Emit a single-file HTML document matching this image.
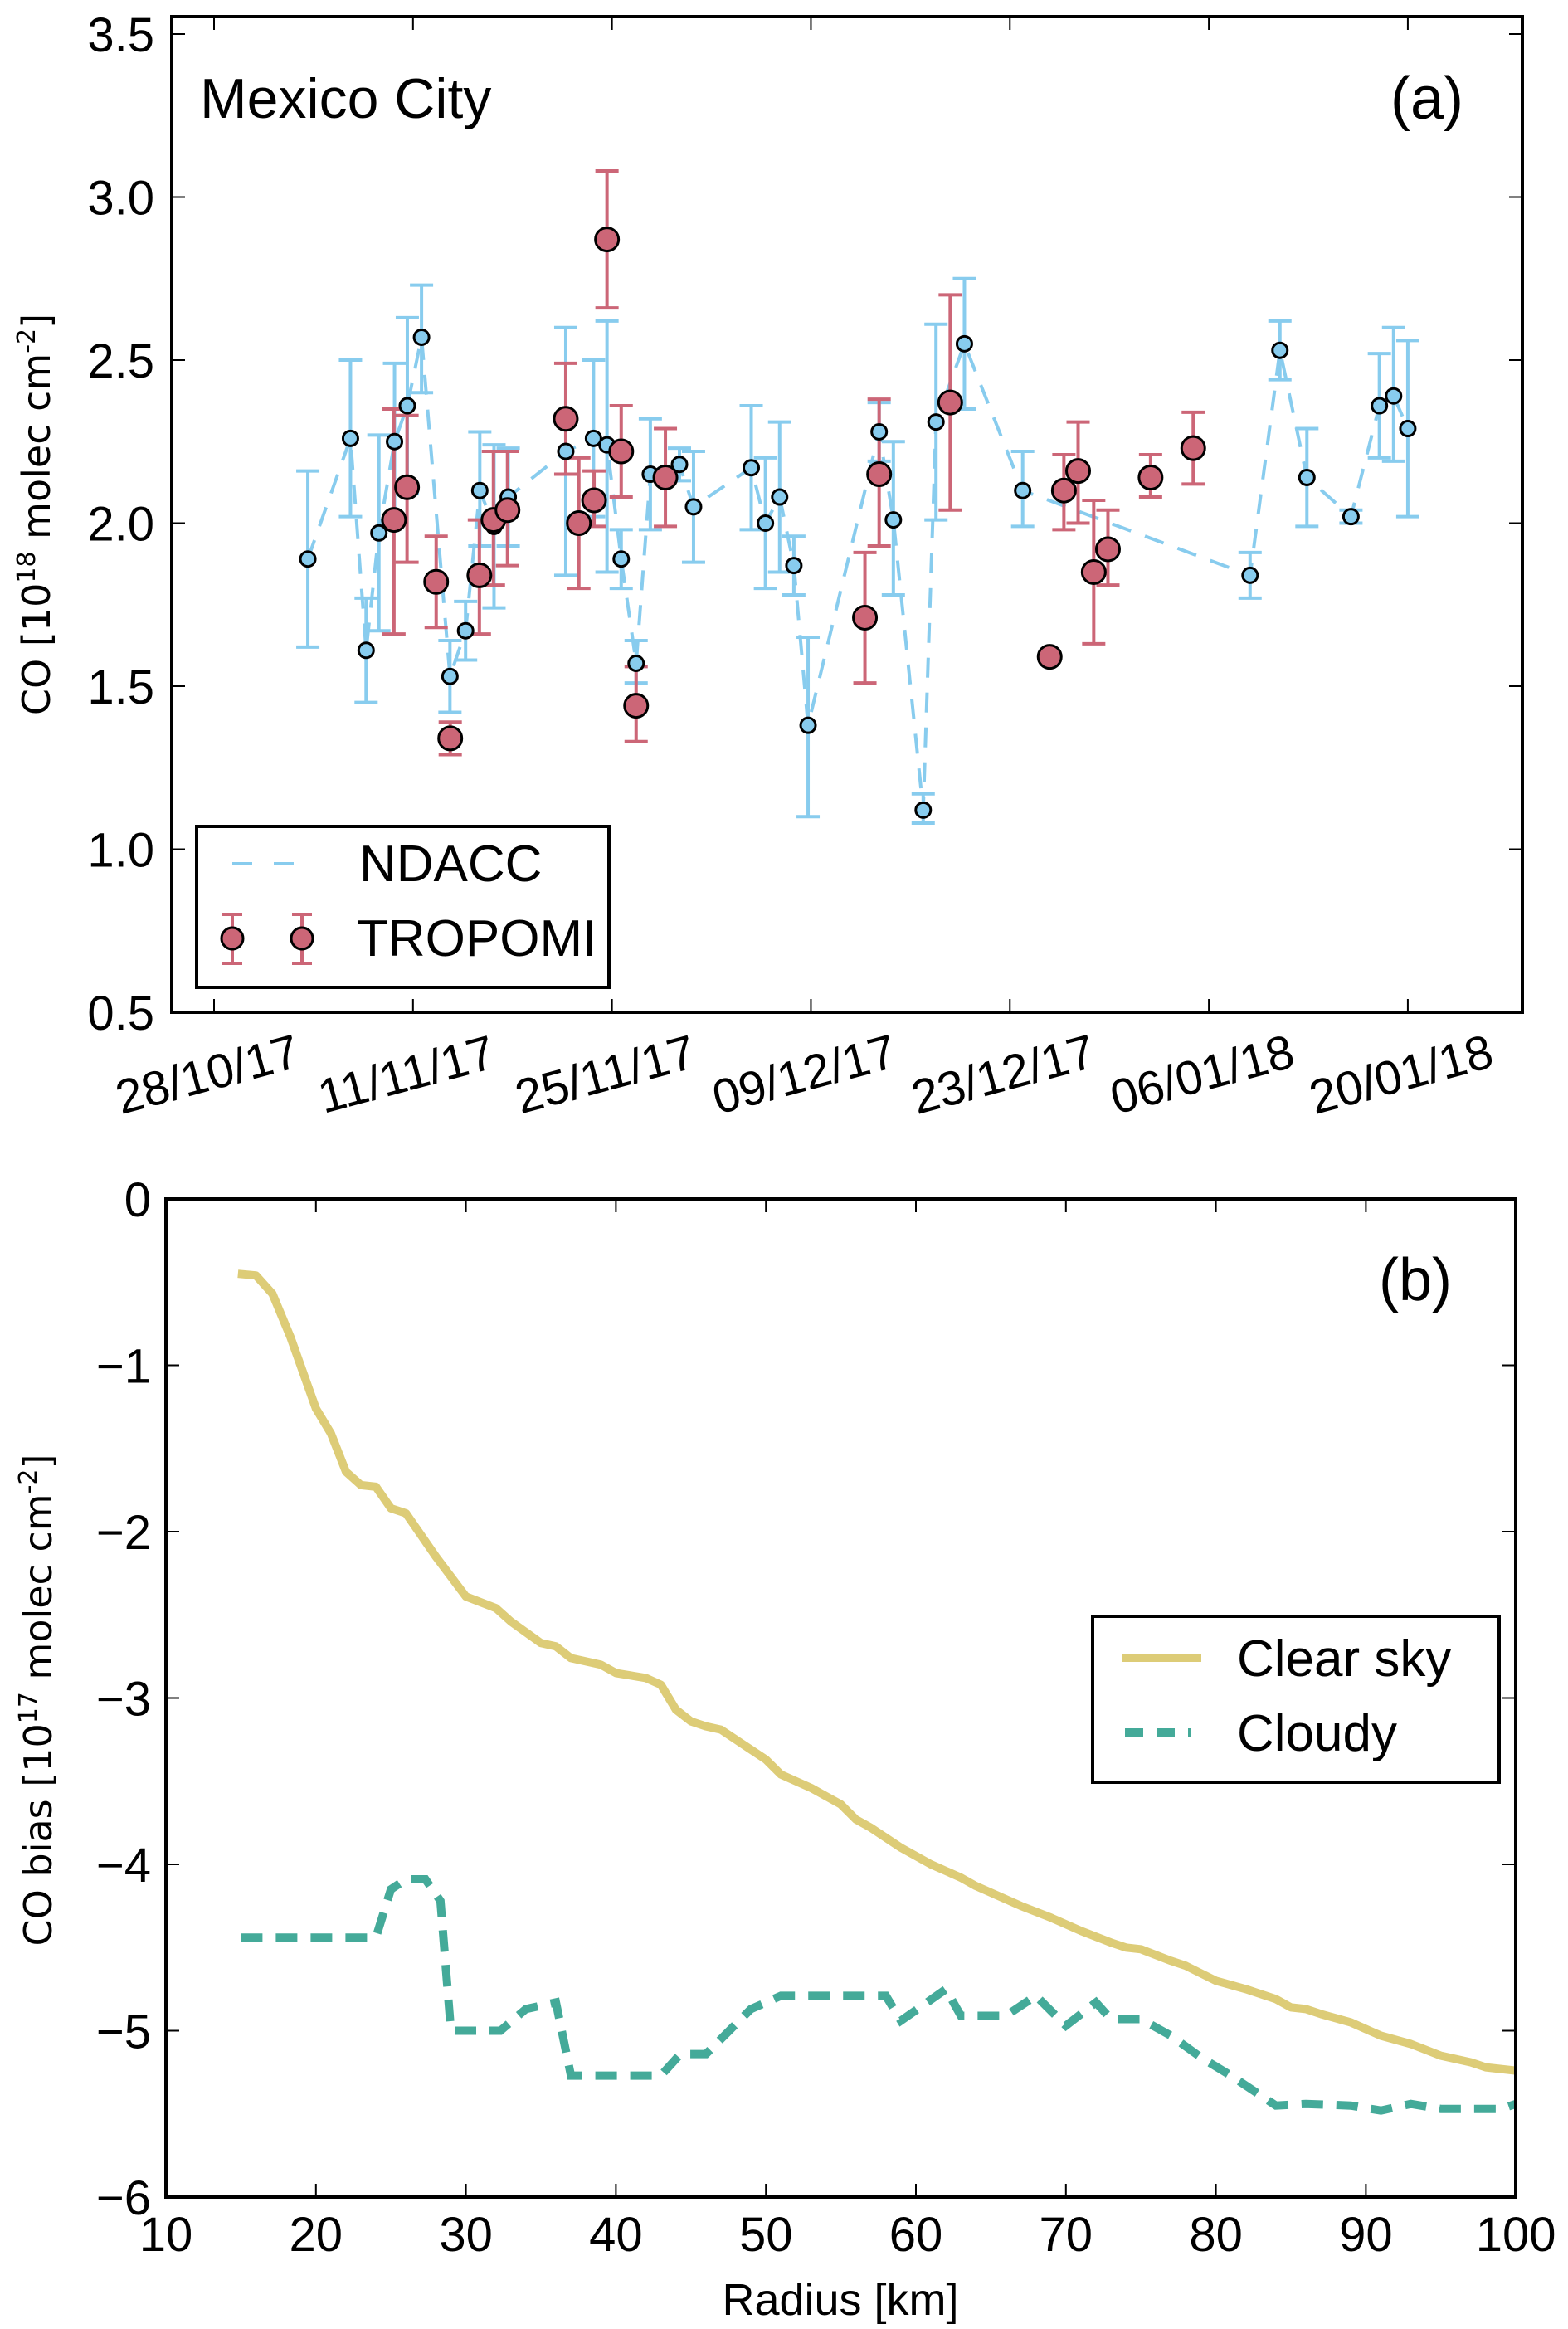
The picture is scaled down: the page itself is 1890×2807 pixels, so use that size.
<!DOCTYPE html>
<html><head><meta charset="utf-8"><style>
html,body{margin:0;padding:0;background:#fff;}
svg{display:block;font-family:"Liberation Sans",sans-serif;}
</style></head><body>
<svg id="chart" width="1890" height="2807" viewBox="0 0 1890 2807" xmlns="http://www.w3.org/2000/svg">
<rect width="1890" height="2807" fill="#fff"/>
<g id="pa"></g>
<g id="pb"></g>
</svg>
<script>
// ---- Panel (a) data ----
const ndaccDays = [6.6,9.6,10.7,11.6,12.7,13.6,14.6,16.6,17.7,18.7,19.7,20.7,24.75,26.7,27.65,28.65,29.7,30.7,32.75,33.74,37.8,38.8,39.8,40.8,41.8,46.8,47.8,49.9,50.8,52.8,56.9,72.9,75,76.9,80,82,83,84];
const ndaccVals = [1.89,2.26,1.61,1.97,2.25,2.36,2.57,1.53,1.67,2.10,1.99,2.08,2.22,2.26,2.24,1.89,1.57,2.15,2.18,2.05,2.17,2.00,2.08,1.87,1.38,2.28,2.01,1.12,2.31,2.55,2.10,1.84,2.53,2.14,2.02,2.36,2.39,2.29];
const ndaccLo = [1.62,2.02,1.45,1.67,2.01,2.09,2.40,1.42,1.58,1.93,1.74,1.93,1.84,2.02,1.85,1.80,1.51,1.98,2.13,1.88,1.98,1.80,1.85,1.78,1.10,2.19,1.78,1.08,2.01,2.35,1.99,1.77,2.44,1.99,2.00,2.20,2.19,2.02];
const ndaccHi = [2.16,2.50,1.77,2.27,2.49,2.63,2.73,1.64,1.76,2.28,2.24,2.23,2.60,2.50,2.62,1.98,1.64,2.32,2.23,2.22,2.36,2.20,2.31,1.96,1.65,2.37,2.25,1.17,2.61,2.75,2.22,1.91,2.62,2.29,2.04,2.52,2.60,2.56];
const tropDays = [12.66,13.58,15.63,16.62,18.67,19.66,20.65,24.75,25.67,26.74,27.65,28.65,29.7,31.76,45.8,46.8,51.8,58.8,59.8,60.8,61.9,62.9,65.9,68.9];
const tropVals = [2.01,2.11,1.82,1.34,1.84,2.01,2.04,2.32,2.00,2.07,2.87,2.22,1.44,2.14,1.71,2.15,2.37,1.59,2.10,2.16,1.85,1.92,2.14,2.23];
const tropLo = [1.66,1.88,1.68,1.29,1.66,1.81,1.87,2.15,1.80,1.99,2.66,2.08,1.33,1.99,1.51,1.93,2.04,1.59,1.98,2.00,1.63,1.81,2.08,2.12];
const tropHi = [2.35,2.33,1.96,1.39,2.01,2.22,2.22,2.49,2.20,2.16,3.08,2.36,1.56,2.29,1.91,2.38,2.70,1.59,2.21,2.31,2.07,2.04,2.21,2.34];
const aYTicks = [0.5,1.0,1.5,2.0,2.5,3.0,3.5];
const aXTickDays = [0,14,28,42,56,70,84];
const aXTickLabels = ["28/10/17","11/11/17","25/11/17","09/12/17","23/12/17","06/01/18","20/01/18"];
// ---- Panel (b) data ----
const clearR = [14.8,16,17.1,18.3,20,21,22,23,24,25,26,28,30,32,33,35,36,37,39,40,42,43,44,45,46,47,49,50,51,53,55,56,57,59,61,63,64,65,67,69,71,73,74,75,77,78,80,82,84,85,86,87,89,91,93,95,97,98,100];
const clearV = [-0.45,-0.46,-0.57,-0.83,-1.26,-1.41,-1.64,-1.72,-1.73,-1.86,-1.89,-2.15,-2.39,-2.46,-2.54,-2.67,-2.69,-2.76,-2.80,-2.85,-2.88,-2.92,-3.07,-3.14,-3.17,-3.19,-3.31,-3.37,-3.46,-3.54,-3.64,-3.73,-3.78,-3.90,-4.00,-4.08,-4.13,-4.17,-4.25,-4.32,-4.40,-4.47,-4.50,-4.51,-4.58,-4.61,-4.70,-4.75,-4.81,-4.86,-4.87,-4.90,-4.95,-5.03,-5.08,-5.15,-5.19,-5.22,-5.24];
const cloudR = [15,24,25,26,27.3,28.3,29,32.3,34,36,37,43,44.3,46,49,51,58,59,62,63,66,68,70,72,73,75,77,79,81,84,86,89,91,93,95,99,100];
const cloudV = [-4.44,-4.44,-4.15,-4.09,-4.09,-4.22,-5.00,-5.00,-4.87,-4.83,-5.27,-5.27,-5.14,-5.14,-4.87,-4.79,-4.79,-4.94,-4.75,-4.91,-4.91,-4.79,-4.97,-4.83,-4.93,-4.93,-5.03,-5.16,-5.27,-5.45,-5.44,-5.45,-5.48,-5.44,-5.47,-5.47,-5.44];
const bYTicks = [0,-1,-2,-3,-4,-5,-6];
const bXTicks = [10,20,30,40,50,60,70,80,90,100];

const NS="http://www.w3.org/2000/svg";
function mk(parent,tag,attrs,text){const e=document.createElementNS(NS,tag);for(const k in attrs)e.setAttribute(k,attrs[k]);if(text!==undefined)e.textContent=text;parent.appendChild(e);return e;}

// ---------- Panel (a) ----------
const pa=document.getElementById('pa');
const aL=207,aR=1835,aT=20,aB=1220;
const ax=d=>258+d*17.13;
const ay=v=>1220-(v-0.5)*393;
// dashed line
let dpts=ndaccDays.map((d,i)=>ax(d).toFixed(1)+','+ay(ndaccVals[i]).toFixed(1)).join(' ');
const nl=mk(pa,'polyline',{points:dpts,fill:'none',stroke:'#88CCEE','stroke-width':4,'stroke-dasharray':'24,18'});


function errbar(g,x,lo,hi,col,name){
  const e=mk(g,'g',{stroke:col,'stroke-width':4});
  
  
  mk(e,'line',{x1:x,x2:x,y1:ay(lo),y2:ay(hi)});
  mk(e,'line',{x1:x-14,x2:x+14,y1:ay(lo),y2:ay(lo)});
  mk(e,'line',{x1:x-14,x2:x+14,y1:ay(hi),y2:ay(hi)});
}
ndaccDays.forEach((d,i)=>errbar(pa,ax(d),ndaccLo[i],ndaccHi[i],'#88CCEE','ndacc-errorbar'));
tropDays.forEach((d,i)=>{ if(tropHi[i]>tropLo[i]) errbar(pa,ax(d),tropLo[i],tropHi[i],'#CC6677','tropomi-errorbar');});
ndaccDays.forEach((d,i)=>{
  const c=mk(pa,'circle',{cx:ax(d),cy:ay(ndaccVals[i]),r:9,fill:'#88CCEE',stroke:'#000','stroke-width':3});
  
  
});
tropDays.forEach((d,i)=>{
  const c=mk(pa,'circle',{cx:ax(d),cy:ay(tropVals[i]),r:14,fill:'#CC6677',stroke:'#000','stroke-width':3});
  
  
});
// frame
const fa=mk(pa,'rect',{x:aL,y:aT,width:aR-aL,height:aB-aT,fill:'none',stroke:'#000','stroke-width':4});


aYTicks.forEach(v=>{
  const y=ay(v);
  mk(pa,'line',{x1:aL,x2:aL+16,y1:y,y2:y,stroke:'#000','stroke-width':2});
  mk(pa,'line',{x1:aR-16,x2:aR,y1:y,y2:y,stroke:'#000','stroke-width':2});
  const t=mk(pa,'text',{x:186,y:y+21,'text-anchor':'end','font-size':58},v.toFixed(1));
  
  
});
aXTickDays.forEach((d,i)=>{
  const x=ax(d);
  mk(pa,'line',{x1:x,x2:x,y1:aB,y2:aB-16,stroke:'#000','stroke-width':2});
  mk(pa,'line',{x1:x,x2:x,y1:aT,y2:aT+16,stroke:'#000','stroke-width':2});
  const t=mk(pa,'text',{x:0,y:0,'text-anchor':'middle','font-size':58,transform:`translate(${x-3},${1314}) rotate(-15)`},aXTickLabels[i]);
  
  
});
mk(pa,'text',{x:241,y:142,'font-size':68,},'Mexico City');
mk(pa,'text',{x:1676,y:143,'font-size':72,},'(a)');
const yta=mk(pa,'text',{transform:'translate(60,620) rotate(-90)','text-anchor':'middle','font-size':46,'font-family':'DejaVu Sans, sans-serif',});
yta.innerHTML='CO [10<tspan dy="-18" font-size="30">18</tspan><tspan dy="18"> molec cm</tspan><tspan dy="-18" font-size="30">-2</tspan><tspan dy="18">]</tspan>';
// legend a
const lga=mk(pa,'g',{});
mk(lga,'rect',{x:237,y:996,width:497,height:194,fill:'#fff',stroke:'#000','stroke-width':4});
mk(lga,'line',{x1:280,x2:355,y1:1041,y2:1041,stroke:'#88CCEE','stroke-width':4,'stroke-dasharray':'24,26',});
mk(lga,'text',{x:433,y:1062,'font-size':62,},'NDACC');
[280,364].forEach(x=>{
  mk(lga,'line',{x1:x,x2:x,y1:1102,y2:1161,stroke:'#CC6677','stroke-width':4});
  mk(lga,'line',{x1:x-12,x2:x+12,y1:1102,y2:1102,stroke:'#CC6677','stroke-width':4});
  mk(lga,'line',{x1:x-12,x2:x+12,y1:1161,y2:1161,stroke:'#CC6677','stroke-width':4});
  mk(lga,'circle',{cx:x,cy:1131,r:13,fill:'#CC6677',stroke:'#000','stroke-width':3,});
});
mk(lga,'text',{x:430,y:1152,'font-size':62,},'TROPOMI');

// ---------- Panel (b) ----------
const pb=document.getElementById('pb');
const bL=200,bR=1827,bT=1445,bB=2648;
const bx=r=>200+(r-10)*18.08;
const by=v=>1445-v*200.5;
const cl=mk(pb,'polyline',{points:clearR.map((r,i)=>bx(r).toFixed(1)+','+by(clearV[i]).toFixed(1)).join(' '),fill:'none',stroke:'#DDCC77','stroke-width':10,'stroke-linejoin':'round'});


const cd=mk(pb,'polyline',{points:cloudR.map((r,i)=>bx(r).toFixed(1)+','+by(cloudV[i]).toFixed(1)).join(' '),fill:'none',stroke:'#44AA99','stroke-width':10,'stroke-dasharray':'26,16'});


const fb=mk(pb,'rect',{x:bL,y:bT,width:bR-bL,height:bB-bT,fill:'none',stroke:'#000','stroke-width':4});


bYTicks.forEach(v=>{
  const y=by(v);
  mk(pb,'line',{x1:bL,x2:bL+16,y1:y,y2:y,stroke:'#000','stroke-width':2});
  mk(pb,'line',{x1:bR-16,x2:bR,y1:y,y2:y,stroke:'#000','stroke-width':2});
  const t=mk(pb,'text',{x:182,y:y+21,'text-anchor':'end','font-size':58},v===0?'0':'\u2212'+Math.abs(v));
  
  
});
bXTicks.forEach(r=>{
  const x=bx(r);
  mk(pb,'line',{x1:x,x2:x,y1:bB,y2:bB-16,stroke:'#000','stroke-width':2});
  mk(pb,'line',{x1:x,x2:x,y1:bT,y2:bT+16,stroke:'#000','stroke-width':2});
  const t=mk(pb,'text',{x:x,y:2713,'text-anchor':'middle','font-size':58},String(r));
  
  
});
mk(pb,'text',{x:1013,y:2790,'text-anchor':'middle','font-size':54,},'Radius [km]');
mk(pb,'text',{x:1662,y:1567,'font-size':72,},'(b)');
const ytb=mk(pb,'text',{transform:'translate(62,2049) rotate(-90)','text-anchor':'middle','font-size':46,'font-family':'DejaVu Sans, sans-serif',});
ytb.innerHTML='CO bias [10<tspan dy="-18" font-size="30">17</tspan><tspan dy="18"> molec cm</tspan><tspan dy="-18" font-size="30">-2</tspan><tspan dy="18">]</tspan>';
const lgb=mk(pb,'g',{});
mk(lgb,'rect',{x:1317,y:1948,width:490,height:200,fill:'#fff',stroke:'#000','stroke-width':4});
mk(lgb,'line',{x1:1353,x2:1448,y1:1998,y2:1998,stroke:'#DDCC77','stroke-width':10,});
mk(lgb,'text',{x:1491,y:2020,'font-size':62,},'Clear sky');
mk(lgb,'line',{x1:1356,x2:1436,y1:2088,y2:2088,stroke:'#44AA99','stroke-width':10,'stroke-dasharray':'22,16',});
mk(lgb,'text',{x:1491,y:2110,'font-size':62,},'Cloudy');
</script>
</body></html>
